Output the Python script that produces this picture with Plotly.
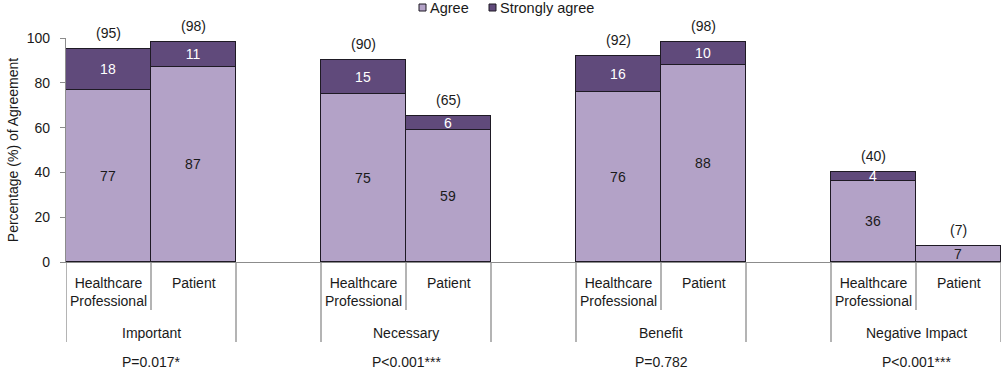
import plotly.graph_objects as go

groups = ["Important", "Necessary", "Benefit", "Negative Impact"]
respondents = ["Healthcare<br>Professional", "Patient"]
series_names = ["Agree", "Strongly agree"]
agree = [77, 87, 75, 59, 76, 88, 36, 7]
strongly_agree = [18, 11, 15, 6, 16, 10, 4, 0]
p_values = ["P=0.017*", "P<0.001***", "P=0.782", "P<0.001***"]
y_ticks = [0, 20, 40, 60, 80, 100]

FONT = "Liberation Sans, Arial, sans-serif"
FS = 14
TXT_C = "#1a1a1a"
AGREE_C = "#b3a2c7"
STRONG_C = "#604a7b"
EDGE_C = "#1e1a24"
AXIS_C = "#8c8c8c"

W, H = 1001, 373
ML, MR, MT, MB = 66, 0, 38, 111
PW, PH = W - ML - MR, H - MT - MB


def px_x(px):
    return (px - ML) / PW


def px_y(py):
    return (H - MB - py) / PH


xs = []
for g in range(len(groups)):
    for m in range(len(respondents)):
        xs.append(3 * g + m + 0.5)
totals = [a + s for a, s in zip(agree, strongly_agree)]

fig = go.Figure()
fig.add_trace(go.Bar(
    x=xs, y=agree, width=1, name=series_names[0],
    marker=dict(color=AGREE_C, line=dict(color=EDGE_C, width=1)),
    text=[str(v) if v else "" for v in agree], textposition="inside",
    insidetextanchor="middle", textangle=0,
    textfont=dict(color=TXT_C, size=FS, family=FONT),
    hoverinfo="skip", showlegend=False,
))
fig.add_trace(go.Bar(
    x=xs, y=strongly_agree, width=1, name=series_names[1],
    marker=dict(color=STRONG_C, line=dict(color=EDGE_C, width=1)),
    text=[str(v) if v else "" for v in strongly_agree], textposition="inside",
    insidetextanchor="middle", textangle=0,
    textfont=dict(color="white", size=FS, family=FONT),
    hoverinfo="skip", showlegend=False,
))

annotations = []
shapes = []
for x, t in zip(xs, totals):
    annotations.append(dict(x=x, y=t, xref="x", yref="y", text=f"({t})",
                            showarrow=False, yanchor="middle", yshift=16,
                            font=dict(size=FS, color=TXT_C, family=FONT)))
for i, x in enumerate(xs):
    annotations.append(dict(x=x, y=px_y(273), xref="x", yref="paper",
                            text=respondents[i % len(respondents)],
                            showarrow=False, yanchor="top",
                            font=dict(size=FS, color=TXT_C, family=FONT)))
for g, name in enumerate(groups):
    annotations.append(dict(x=3 * g + 1, y=px_y(333), xref="x", yref="paper",
                            text=name, showarrow=False, yanchor="middle",
                            font=dict(size=FS, color=TXT_C, family=FONT)))
    annotations.append(dict(x=3 * g + 1, y=px_y(362), xref="x", yref="paper",
                            text=p_values[g], showarrow=False, yanchor="middle",
                            font=dict(size=FS, color=TXT_C, family=FONT)))

long_d, short_d = px_y(342), px_y(310)
for g in range(len(groups)):
    for b, depth in [(3 * g, long_d), (3 * g + 1, short_d), (3 * g + 2, long_d)]:
        shapes.append(dict(type="line", xref="x", yref="paper", x0=b, x1=b,
                           y0=0, y1=depth, line=dict(color=AXIS_C, width=1.3)))

# legend (drawn at top centre)
legend_items = [(series_names[0], AGREE_C, 419), (series_names[1], STRONG_C, 489)]
for name, col, sx in legend_items:
    shapes.append(dict(type="rect", xref="paper", yref="paper",
                       x0=px_x(sx), x1=px_x(sx + 7), y0=px_y(11), y1=px_y(4),
                       fillcolor=col, line=dict(color=EDGE_C, width=1)))
    annotations.append(dict(x=px_x(sx + 9), y=px_y(7.5), xref="paper", yref="paper",
                            text=name, showarrow=False, xanchor="left",
                            yanchor="middle",
                            font=dict(size=14.5, color=TXT_C, family=FONT)))

fig.update_layout(
    width=W, height=H,
    margin=dict(l=ML, r=MR, t=MT, b=MB),
    barmode="stack", bargap=0,
    plot_bgcolor="white", paper_bgcolor="white",
    font=dict(family=FONT, size=FS, color=TXT_C),
    uniformtext=dict(minsize=FS, mode="show"),
    showlegend=False,
    xaxis=dict(range=[0, 11], showticklabels=False, ticks="", showgrid=False,
               zeroline=False, showline=True, linecolor=AXIS_C, linewidth=1.3,
               fixedrange=True, automargin=False),
    yaxis=dict(range=[0, 100], tickvals=y_ticks, ticks="outside", ticklen=5,
               tickcolor=AXIS_C, showline=True, linecolor=AXIS_C, linewidth=1.3,
               showgrid=False, zeroline=False, automargin=False,
               ticklabelstandoff=7,
               title=dict(text="Percentage (%) of Agreement", standoff=4,
                          font=dict(size=FS, family=FONT, color=TXT_C)),
               tickfont=dict(size=FS, family=FONT, color=TXT_C), fixedrange=True),
    annotations=annotations, shapes=shapes,
)

fig.write_html(
    "out.html",
    config={"displayModeBar": False},
    post_script="document.body.style.margin='0';document.body.style.overflow='hidden';",
)
